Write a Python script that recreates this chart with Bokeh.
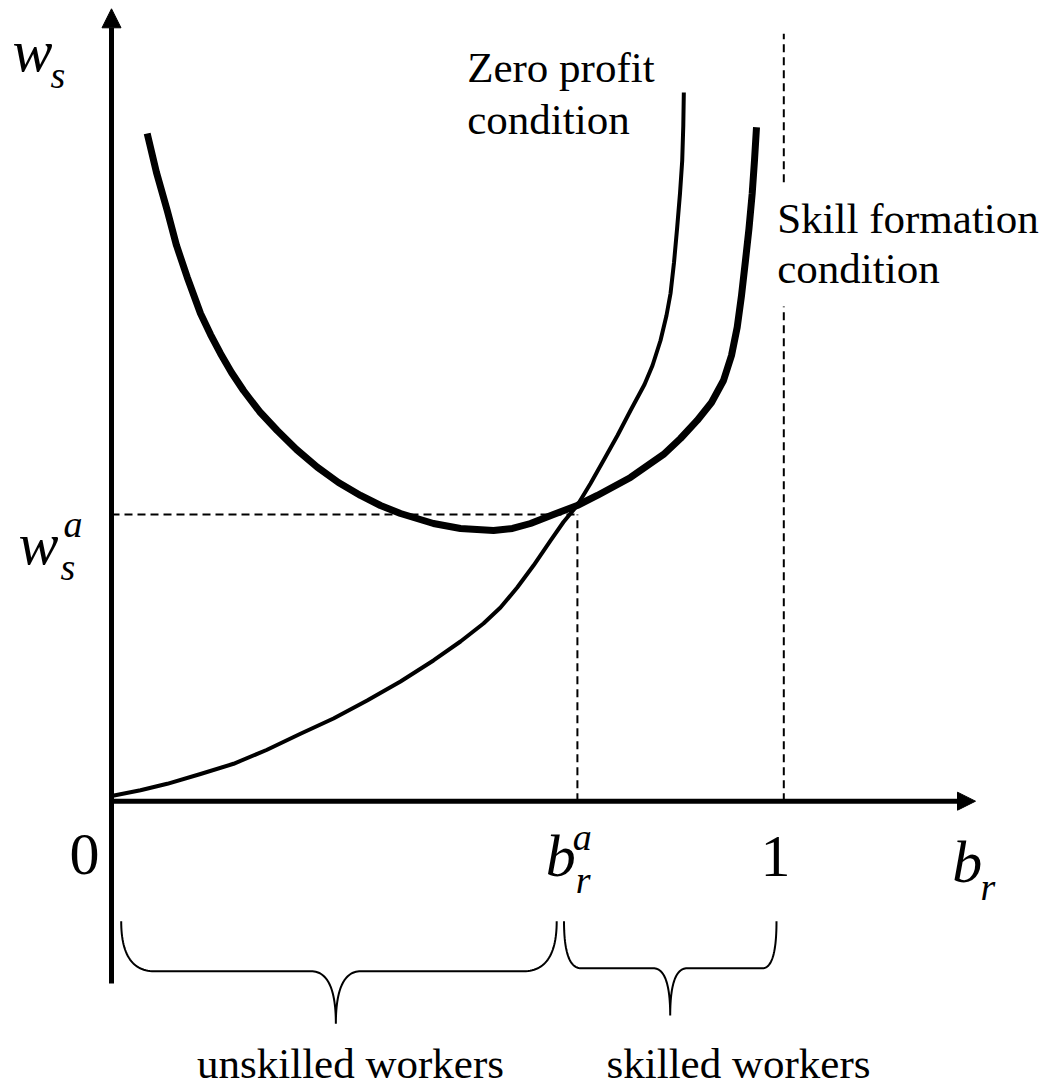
import numpy as np
from bokeh.plotting import figure
from bokeh.models import Range1d, Arrow, NormalHead
from bokeh.core.properties import value
from bokeh.embed import file_html
from bokeh.resources import INLINE

# ---------------- data ----------------
# Zero profit condition (thin curve): b_r -> w_s
zp_b = [0.0, 0.0431, 0.0829, 0.1324, 0.1815, 0.2306, 0.2811, 0.3302, 0.3803,
        0.4299, 0.4789, 0.5191, 0.5533, 0.5786, 0.6035, 0.6277, 0.6530, 0.6723,
        0.6927, 0.7125, 0.7318, 0.7526, 0.7720, 0.7928, 0.8047, 0.8166, 0.8255,
        0.8315, 0.8367, 0.8414, 0.8456, 0.8489, 0.8505, 0.8513]
zp_w = [0.0181, 0.0380, 0.0607, 0.0949, 0.1305, 0.1786, 0.2351, 0.2885, 0.3512,
        0.4175, 0.4908, 0.5570, 0.6198, 0.6756, 0.7454, 0.8221, 0.9093, 0.9738,
        1.0314, 1.1081, 1.1884, 1.2755, 1.3627, 1.4534, 1.5197, 1.6069, 1.6941,
        1.7708, 1.8790, 2.0010, 2.1196, 2.2347, 2.3568, 2.4719]

# Skill formation condition (thick curve): b_r -> w_s
sf_b = [0.0531, 0.0669, 0.0829, 0.0967, 0.1126, 0.1324, 0.1473, 0.1621, 0.1785,
        0.1963, 0.2201, 0.2465, 0.2752, 0.3060, 0.3376, 0.3704, 0.4001, 0.4299,
        0.4789, 0.5191, 0.5682, 0.5965, 0.6232, 0.6574, 0.6927, 0.7225, 0.7720,
        0.8211, 0.8463, 0.8712, 0.8925, 0.9103, 0.9222, 0.9307, 0.9371, 0.9430,
        0.9482, 0.9530, 0.9564, 0.9594]
sf_w = [2.3289, 2.1929, 2.0603, 1.9383, 1.8277, 1.7011, 1.6278, 1.5616, 1.4953,
        1.4325, 1.3593, 1.2930, 1.2267, 1.1650, 1.1116, 1.0663, 1.0314, 1.0035,
        0.9686, 0.9512, 0.9442, 0.9512, 0.9686, 1.0000, 1.0314, 1.0663, 1.1291,
        1.2093, 1.2651, 1.3279, 1.3907, 1.4674, 1.5546, 1.6533, 1.7639, 1.8860,
        1.9975, 2.1196, 2.2347, 2.3509]

b_a = 0.693      # equilibrium b_r^a
w_a = 1.0        # equilibrium w_s^a
b_one = 1.0      # b_r = 1

curve_labels = ["Zero profit", "condition", "Skill formation", "condition"]
group_labels = ["unskilled workers", "skilled workers"]

# ---------------- geometry helpers ----------------
PX_X = 672.3     # pixels per unit of b_r
PX_Y = 286.7     # pixels per unit of w_s
W, H = 1047, 1088
X0 = -111 / PX_X
X1 = X0 + W / PX_X
Y1 = 800.7 / PX_Y
Y0 = Y1 - H / PX_Y
BASE_FIX = 0.36  # baseline correction (fraction of font size)

def dx(px):
    return px / PX_X

def dy(px):
    return px / PX_Y

def base(y, size):
    return y + dy(BASE_FIX * size)

p = figure(width=W, height=H, x_range=Range1d(X0, X1), y_range=Range1d(Y0, Y1),
           output_backend="svg", toolbar_location=None,
           x_axis_location=None, y_axis_location=None,
           min_border=0, min_border_left=0, min_border_right=0,
           min_border_top=0, min_border_bottom=0)
p.grid.visible = False
p.outline_line_color = None
p.background_fill_color = "white"
p.border_fill_color = "white"

FONT = value("Liberation Serif")
SUB = 38

# axes with arrow heads
p.add_layout(Arrow(end=NormalHead(size=19, fill_color="black", line_color="black", line_width=1),
                   x_start=0, y_start=-dy(182.3), x_end=0, y_end=dy(792.4),
                   line_width=5, line_color="black"))
p.add_layout(Arrow(end=NormalHead(size=18, fill_color="black", line_color="black", line_width=1),
                   x_start=-dx(2.5), y_start=0, x_end=dx(864), y_end=0,
                   line_width=5, line_color="black"))

# dashed guide lines
p.line([0, b_a], [w_a, w_a], line_dash="8 5", line_width=2, line_color="black")
p.line([b_a, b_a], [0, w_a], line_dash="8 5", line_width=2, line_color="black")
p.line([b_one, b_one], [0, dy(494.7)], line_dash="8 5", line_width=2, line_color="black")
p.line([b_one, b_one], [dy(619), dy(767.4)], line_dash="8 5", line_width=2, line_color="black")

# curves
p.line(zp_b, zp_w, line_width=4, line_color="black", line_join="round")
p.line(sf_b, sf_w, line_width=7, line_color="black", line_join="round")

# braces
def qbez(p0, p1, p2, n=30):
    t = np.linspace(0, 1, n)
    x = (1 - t) ** 2 * p0[0] + 2 * (1 - t) * t * p1[0] + t ** 2 * p2[0]
    y = (1 - t) ** 2 * p0[1] + 2 * (1 - t) * t * p1[1] + t ** 2 * p2[1]
    return list(x), list(y)

def brace(x0, x1, xt, ytop, ymid, ytip, re0, re1, rt):
    xs, ys = [], []
    a = qbez((x0, ytop), (x0, ymid), (x0 + re0, ymid))
    xs += a[0]; ys += a[1]
    b = qbez((xt - rt, ymid), (xt, ymid), (xt, ytip))
    xs += b[0]; ys += b[1]
    c = qbez((xt, ytip), (xt, ymid), (xt + rt, ymid))
    xs += c[0]; ys += c[1]
    d = qbez((x1 - re1, ymid), (x1, ymid), (x1, ytop))
    xs += d[0]; ys += d[1]
    return xs, ys

bx, by = brace(0 + dx(9.7), b_a - dx(20.7), (0 + b_a) / 2 - dx(8.6),
               -dy(120), -dy(170), -dy(222.6), dx(33), dx(33), dx(25))
p.line(bx, by, line_width=2, line_color="black")
bx, by = brace(b_a - dx(13.4), b_one - dx(7.3), (b_a + b_one) / 2 - dx(10.4),
               -dy(120), -dy(167), -dy(214.3), dx(17), dx(14), dx(17))
p.line(bx, by, line_width=2, line_color="black")

# curve labels
p.text(x=[dx(355.7), dx(355.7), b_one - dx(6.6), b_one - dx(6.6)],
       y=[base(dy(718.7), 43), base(dy(666.7), 43), base(dy(567.7), 43), base(dy(517.7), 43)],
       text=curve_labels, text_font=FONT, text_font_size="43px",
       text_align="left", text_baseline="alphabetic", text_color="black")

# group labels
p.text(x=[dx(239), b_one - dx(45.3)], y=[base(-dy(277.3), 43), base(-dy(277.3), 43)],
       text=group_labels, text_font=FONT, text_font_size="43px",
       text_align="center", text_baseline="alphabetic", text_color="black")

# numbers on the b axis
p.text(x=[-dx(27), b_one - dx(8.3)], y=[base(-dy(75.3), 60), base(-dy(77.3), 60)],
       text=["0", "1"], text_font=FONT, text_font_size="60px", text_align="center",
       text_baseline="alphabetic", text_color="black")

# italic main symbols
p.text(x=[-dx(99), -dx(93), b_a - dx(31.7), dx(840.7)],
       y=[base(dy(728.7), 60), base(w_a - dy(51), 60), base(-dy(76.3), 60), base(-dy(82.3), 60)],
       text=["w", "w", "b", "b"], text_font=FONT, text_font_style="italic",
       text_font_size="60px", text_align="left", text_baseline="alphabetic",
       text_color="black")
# subscripts / superscripts
p.text(x=[-dx(61), -dx(51), -dx(48), b_a - dx(4.7), b_a - dx(1.7), dx(869)],
       y=[base(dy(712.7), SUB), base(w_a - dy(66), SUB), base(w_a + dy(-23), SUB),
          base(-dy(49.3), SUB), base(-dy(92.3), SUB), base(-dy(99.3), SUB)],
       text=["s", "s", "a", "a", "r", "r"], text_font=FONT, text_font_style="italic",
       text_font_size=f"{SUB}px", text_align="left", text_baseline="alphabetic",
       text_color="black")

open("out.html", "w").write(file_html(p, INLINE))
